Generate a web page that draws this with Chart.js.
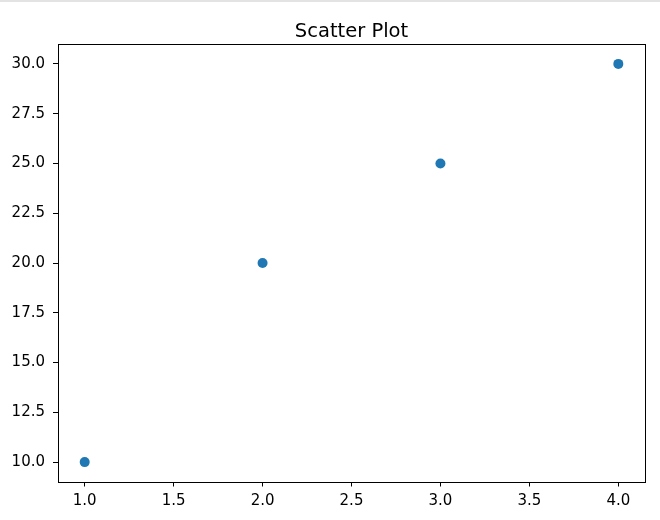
<!DOCTYPE html>
<html>
<head>
<meta charset="utf-8">
<script src="https://cdn.jsdelivr.net/npm/chart.js@4"></script>
<style>
  html, body { margin: 0; padding: 0; background: #fff; }
  #wrap { position: relative; width: 660px; height: 520px; }
  #topline { position: absolute; left: 0; top: 0; width: 660px; height: 2px; background: #e3e3e3; }
  canvas { display: block; }
</style>
</head>
<body>
<div id="wrap">
  <canvas id="c" width="660" height="520"></canvas>
  <div id="topline"></div>
</div>
<script>
const xValues = [1, 2, 3, 4];
const yValues = [10, 20, 25, 30];
const xTicks = [1.0, 1.5, 2.0, 2.5, 3.0, 3.5, 4.0];
const yTicks = [10.0, 12.5, 15.0, 17.5, 20.0, 22.5, 25.0, 27.5, 30.0];
const titleText = 'Scatter Plot';

const points = xValues.map((x, i) => ({ x: x, y: yValues[i] }));
const FONT = '"DejaVu Sans"';

const frame = {
  id: 'frame',
  afterDatasetsDraw(chart) {
    const { ctx, chartArea: a } = chart;
    ctx.save();
    ctx.strokeStyle = '#000';
    ctx.lineWidth = 1;
    ctx.strokeRect(Math.round(a.left) + 0.5, Math.round(a.top) + 0.5,
                   Math.round(a.right - a.left), Math.round(a.bottom - a.top));
    ctx.restore();
  },
  afterDraw(chart) {
    const { ctx, chartArea: a } = chart;
    ctx.save();
    ctx.fillStyle = '#000';
    ctx.font = '19.5px ' + FONT;
    ctx.textAlign = 'center';
    ctx.textBaseline = 'alphabetic';
    ctx.fillText(titleText, (a.left + a.right) / 2, 36.5);
    ctx.restore();
  }
};

new Chart(document.getElementById('c'), {
  type: 'scatter',
  data: {
    datasets: [{
      data: points,
      backgroundColor: '#1f77b4',
      borderColor: '#1f77b4',
      pointRadius: 5,
      pointHoverRadius: 5,
      borderWidth: 0
    }]
  },
  options: {
    responsive: false,
    animation: false,
    layout: { padding: { left: 0, right: 15, top: 44, bottom: 0 } },
    plugins: {
      legend: { display: false },
      tooltip: { enabled: false },
      title: { display: false }
    },
    scales: {
      x: {
        type: 'linear',
        min: 0.85,
        max: 4.15,
        afterBuildTicks(axis) { axis.ticks = xTicks.map(v => ({ value: v })); },
        afterFit(axis) { axis.height = 38; },
        grid: { drawOnChartArea: false, drawTicks: true, tickLength: 4.5, tickColor: '#000', tickWidth: 1 },
        border: { display: false },
        ticks: {
          color: '#000',
          padding: 6,
          maxRotation: 0,
          autoSkip: false,
          font: { family: 'DejaVu Sans', size: 15 },
          callback: v => Number(v).toFixed(1)
        }
      },
      y: {
        type: 'linear',
        min: 9,
        max: 31,
        afterBuildTicks(axis) { axis.ticks = yTicks.map(v => ({ value: v })); },
        afterFit(axis) { axis.width = 58; },
        grid: { drawOnChartArea: false, drawTicks: true, tickLength: 5, tickColor: '#000', tickWidth: 1 },
        border: { display: false },
        ticks: {
          color: '#000',
          padding: 8,
          autoSkip: false,
          font: { family: 'DejaVu Sans', size: 15 },
          callback: v => Number(v).toFixed(1)
        }
      }
    }
  },
  plugins: [frame]
});
</script>
</body>
</html>
